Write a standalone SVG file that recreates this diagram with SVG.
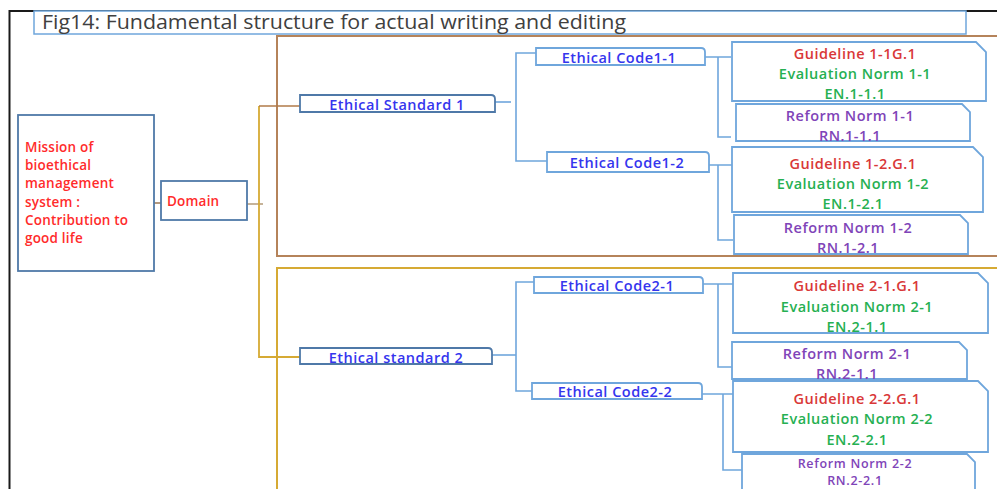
<svg xmlns="http://www.w3.org/2000/svg" width="997" height="489" viewBox="0 0 997 489">
<style>
text{font-family:"Open Sans","Liberation Sans",Arial,sans-serif;font-weight:600;font-size:14.5px;letter-spacing:0.5px;text-anchor:middle;dominant-baseline:central}
.frame{fill:none;stroke:#1a1a1a;stroke-width:2}
.dk{fill:#fff;stroke:#4f79a8;stroke-width:1.8}
.lt{fill:#fff;stroke:#6fa6dc;stroke-width:1.8}
.con{fill:none;stroke:#6fa6dc;stroke-width:1.6}
.blue{fill:#3535ee}
.red{fill:#d93838}
.grn{fill:#26b052}
.pur{fill:#8044b8}
.sm{font-size:12.5px;letter-spacing:0.7px}
.mis{fill:#ff2b2b;text-anchor:start;font-size:13.5px;letter-spacing:0.2px}
</style>
<rect width="997" height="489" fill="#fff"/>
<g id="frame">
<path class="frame" d="M9.5,489 V11 H997"/>
</g>
<g id="title">
<rect x="34" y="11" width="932" height="23" fill="#fff" stroke="#6fa6dc" stroke-width="1.5"/>
<text x="42" y="21" style="text-anchor:start;font-size:20px;font-weight:400;letter-spacing:0;fill:#404040" textLength="584" lengthAdjust="spacingAndGlyphs">Fig14: Fundamental structure for actual writing and editing</text>
</g>
<g id="groups">
<rect x="277" y="36" width="740" height="220" fill="none" stroke="#b5835a" stroke-width="2"/>
<rect x="277" y="268" width="740" height="240" fill="none" stroke="#d6aa34" stroke-width="2"/>
</g>
<g id="connectors">
<path d="M154,203 H161" fill="none" stroke="#a08060" stroke-width="1.6"/>
<path d="M247,204 H263" fill="none" stroke="#b8a080" stroke-width="1.6"/>
<path d="M259,106 V357 H301" fill="none" stroke="#d6aa34" stroke-width="1.8"/>
<path d="M259,106 H301" fill="none" stroke="#b07a48" stroke-width="1.6"/>
<path class="con" d="M495,102 H511"/>
<path class="con" d="M537,53 H516 V161 H548"/>
<path class="con" d="M705,57 H731 M718,57 V137 H731"/>
<path class="con" d="M709,165 H732 M718,165 V240 H733"/>
<path class="con" d="M492,355 H516"/>
<path class="con" d="M535,282 H516 V391 H533"/>
<path class="con" d="M703,284 H733 M718,284 V367 H732"/>
<path class="con" d="M702,394 H733 M723,394 V470 H742"/>
</g>
<g id="mission">
<rect class="dk" x="18" y="115" width="136" height="156"/>
<text class="mis" x="25" y="147">Mission of</text>
<text class="mis" x="25" y="165">bioethical</text>
<text class="mis" x="25" y="183">management</text>
<text class="mis" x="25" y="202">system :</text>
<text class="mis" x="25" y="220">Contribution to</text>
<text class="mis" x="25" y="238">good life</text>
</g>
<g id="domain">
<rect class="dk" x="161" y="181" width="86" height="39"/>
<text class="mis" x="167" y="201">Domain</text>
</g>
<g id="std1">
<path class="dk" d="M300,95 H491 Q495,95 495,99 V112 H300 Z"/>
<text class="blue" x="397" y="104">Ethical Standard 1</text>
</g>
<g id="code1-1">
<path class="lt" d="M536,48 H701 Q705,48 705,52 V65 H536 Z"/>
<text class="blue" x="619" y="57">Ethical Code1-1</text>
</g>
<g id="code1-2">
<path class="lt" d="M547,152 H705 Q709,152 709,156 V172 H547 Z"/>
<text class="blue" x="627" y="162">Ethical Code1-2</text>
</g>
<g id="gl1-1">
<path class="lt" d="M732,42 H976 L986,52 V101 H732 Z"/>
<text class="red" x="855" y="53">Guideline 1-1G.1</text>
<text class="grn" x="855" y="73">Evaluation Norm 1-1</text>
<text class="grn" x="855" y="93">EN.1-1.1</text>
</g>
<g id="rn1-1">
<path class="lt" d="M736,104 H962 L970,112 V141 H736 Z"/>
<text class="pur" x="850" y="115">Reform Norm 1-1</text>
<text class="pur" x="850" y="135">RN.1-1.1</text>
</g>
<g id="gl1-2">
<path class="lt" d="M732,147 H973 L983,157 V212 H732 Z"/>
<text class="red" x="853" y="163">Guideline 1-2.G.1</text>
<text class="grn" x="853" y="183">Evaluation Norm 1-2</text>
<text class="grn" x="853" y="203">EN.1-2.1</text>
</g>
<g id="rn1-2">
<path class="lt" d="M734,215 H960 L968,223 V254 H734 Z"/>
<text class="pur" x="848" y="227">Reform Norm 1-2</text>
<text class="pur" x="848" y="247">RN.1-2.1</text>
</g>
<g id="std2">
<path class="dk" d="M300,348 H488 Q492,348 492,352 V364 H300 Z"/>
<text class="blue" x="396" y="357">Ethical standard 2</text>
</g>
<g id="code2-1">
<path class="lt" d="M534,277 H699 Q703,277 703,281 V293 H534 Z"/>
<text class="blue" x="617" y="285">Ethical Code2-1</text>
</g>
<g id="code2-2">
<path class="lt" d="M532,383 H698 Q702,383 702,387 V399 H532 Z"/>
<text class="blue" x="615" y="391">Ethical Code2-2</text>
</g>
<g id="gl2-1">
<path class="lt" d="M733,273 H978 L988,283 V333 H733 Z"/>
<text class="red" x="857" y="285">Guideline 2-1.G.1</text>
<text class="grn" x="857" y="306">Evaluation Norm 2-1</text>
<text class="grn" x="857" y="326">EN.2-1.1</text>
</g>
<g id="rn2-1">
<path class="lt" d="M732,342 H959 L967,350 V379 H732 Z"/>
<text class="pur" x="847" y="353">Reform Norm 2-1</text>
<text class="pur" x="847" y="373">RN.2-1.1</text>
</g>
<g id="gl2-2">
<path class="lt" d="M733,381 H978 L988,391 V452 H733 Z"/>
<text class="red" x="857" y="398">Guideline 2-2.G.1</text>
<text class="grn" x="857" y="418">Evaluation Norm 2-2</text>
<text class="grn" x="857" y="439">EN.2-2.1</text>
</g>
<g id="rn2-2">
<path class="lt" d="M742,454 H967 L975,462 V500 H742 Z"/>
<text class="pur sm" x="855" y="463">Reform Norm 2-2</text>
<text class="pur sm" x="855" y="480">RN.2-2.1</text>
</g>
</svg>
